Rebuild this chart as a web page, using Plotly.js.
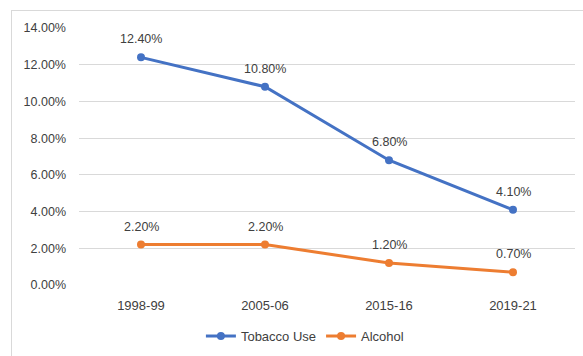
<!DOCTYPE html>
<html>
<head>
<meta charset="utf-8">
<script src="https://cdn.plot.ly/plotly-3.0.1.min.js"></script>
<style>
  html, body { margin: 0; padding: 0; background: #fff; overflow: hidden; }
  #frame { position: absolute; left: 11px; top: 10px; width: 600px; height: 400px;
           border: 1px solid #d9d9d9; box-sizing: border-box; }
  #chart { position: absolute; left: 0; top: 0; width: 583px; height: 356px; }
</style>
</head>
<body>
<div id="frame"></div>
<div id="chart"></div>
<script>
// Survey periods and prevalence (%) of each substance
const periods = ["1998-99", "2005-06", "2015-16", "2019-21"];
const tobaccoUse = [12.4, 10.8, 6.8, 4.1];
const alcohol = [2.2, 2.2, 1.2, 0.7];

const BLUE = "#4472C4";
const ORANGE = "#ED7D31";
const FONT = "Liberation Sans, Arial, sans-serif";

function series(name, values, color) {
  return {
    type: "scatter",
    mode: "lines+markers",
    name: name,
    x: periods,
    y: values,
    line: { color: color, width: 3 },
    marker: { color: color, size: 8 },
    hoverinfo: "skip"
  };
}

// Value labels sit above each point
function valueLabels(values) {
  return values.map((v, i) => ({
    x: periods[i],
    y: v,
    xref: "x",
    yref: "y",
    text: v.toFixed(2) + "%",
    showarrow: false,
    yshift: 18,
    font: { family: FONT, size: 12.5, color: "#404040" }
  }));
}

const data = [
  series("Tobacco Use", tobaccoUse, BLUE),
  series("Alcohol", alcohol, ORANGE)
];

const layout = {
  width: 583,
  height: 356,
  margin: { l: 79, r: 8, t: 28, b: 71, autoexpand: false },
  paper_bgcolor: "rgba(0,0,0,0)",
  plot_bgcolor: "rgba(0,0,0,0)",
  font: { family: FONT, size: 12, color: "#595959" },
  showlegend: true,
  legend: {
    orientation: "h",
    xref: "container",
    yref: "container",
    x: 0.523,
    xanchor: "center",
    y: 0.056,
    yanchor: "middle",
    font: { family: FONT, size: 13, color: "#404040" },
    itemwidth: 30
  },
  xaxis: {
    type: "category",
    range: [-0.5, 3.5],
    showgrid: false,
    zeroline: false,
    showline: false,
    ticks: "",
    ticklabelstandoff: 11,
    tickfont: { family: FONT, size: 13, color: "#404040" }
  },
  yaxis: {
    range: [0, 14],
    dtick: 2,
    tickformat: ".2f",
    ticksuffix: "%",
    showgrid: true,
    gridcolor: "#d9d9d9",
    gridwidth: 1,
    zeroline: false,
    showline: false,
    ticks: "",
    ticklabelstandoff: 12,
    tickfont: { family: FONT, size: 12.5, color: "#404040" }
  },
  annotations: valueLabels(tobaccoUse).concat(valueLabels(alcohol))
};

Plotly.newPlot("chart", data, layout, { displayModeBar: false, staticPlot: true });
</script>
</body>
</html>
